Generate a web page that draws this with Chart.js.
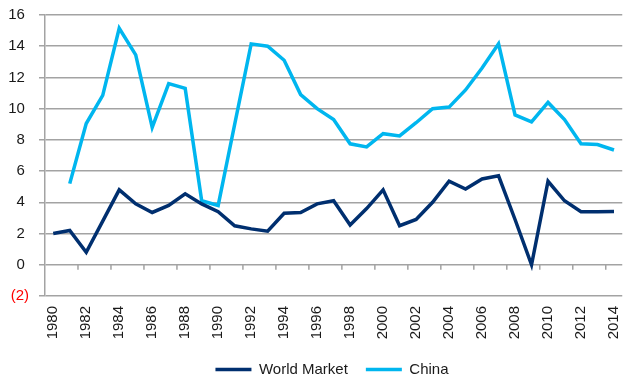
<!DOCTYPE html>
<html>
<head>
<meta charset="utf-8">
<script src="https://cdn.jsdelivr.net/npm/chart.js@4/dist/chart.umd.min.js"></script>
<style>
  html, body { margin: 0; padding: 0; background: #fff; }
  #wrap { width: 642px; height: 380px; }
</style>
</head>
<body>
<div id="wrap"><canvas id="growthChart"></canvas></div>
<script>
// Years on the x axis
const years = [];
for (let y = 1980; y <= 2014; y++) years.push(String(y));

// Values (% growth)
const worldMarket = [2.0, 2.2, 0.8, 2.8, 4.8, 3.9, 3.35, 3.8, 4.55, 3.9,
    3.4, 2.5, 2.3, 2.15, 3.3, 3.35, 3.9, 4.1, 2.55, 3.6,
    4.8, 2.5, 2.9, 4.0, 5.35, 4.85, 5.5, 5.7, 2.9, 0.0,
    5.35, 4.1, 3.4, 3.4, 3.42];
const china = [null, 5.2, 9.05, 10.85, 15.15, 13.45, 8.8, 11.6, 11.3, 4.1,
    3.8, 9.0, 14.15, 14.0, 13.1, 10.9, 10.0, 9.3, 7.75, 7.55,
    8.4, 8.25, 9.1, 10.0, 10.1, 11.2, 12.6, 14.15, 9.6, 9.15,
    10.4, 9.3, 7.75, 7.7, 7.35];

const gridColor = '#a3a3a3';

// small tick marks on the zero line, every second category boundary
const zeroTicks = {
    id: 'zeroTicks',
    afterLayout(chart) {
        // legend sits a little right of the canvas centre in the original
        chart.legend.left += 11;
        chart.legend.right += 11;
    },
    beforeDatasetsDraw(chart) {
        const x = chart.scales.x, y = chart.scales.y;
        const y0 = y.getPixelForValue(0);
        const ctx = chart.ctx;
        ctx.save();
        ctx.strokeStyle = gridColor;
        ctx.lineWidth = 1.5;
        ctx.beginPath();
        for (let i = 1; i < years.length - 1; i += 2) {
            const px = (x.getPixelForValue(i) + x.getPixelForValue(i + 1)) / 2;
            ctx.moveTo(px, y0);
            ctx.lineTo(px, y0 + 5);
        }
        ctx.stroke();
        ctx.restore();
    }
};

Chart.defaults.font.family = "'Liberation Sans', Arial, sans-serif";
Chart.defaults.font.size = 15;
Chart.defaults.color = '#1a1a1a';

new Chart(document.getElementById('growthChart').getContext('2d'), {
    type: 'line',
    data: {
        labels: years,
        datasets: [{
            label: 'World Market',
            data: worldMarket,
            borderColor: '#002f6f',
            backgroundColor: '#002f6f',
            borderWidth: 3.5,
            pointRadius: 0,
            tension: 0,
            fill: false
        }, {
            label: 'China',
            data: china,
            borderColor: '#00b6ef',
            backgroundColor: '#00b6ef',
            borderWidth: 3.5,
            pointRadius: 0,
            tension: 0,
            fill: false
        }]
    },
    options: {
        responsive: true,
        maintainAspectRatio: false,
        animation: false,
        layout: { padding: { left: 0, right: 0, top: 15, bottom: -7 } },
        plugins: {
            legend: {
                position: 'bottom',
                labels: {
                    usePointStyle: true,
                    pointStyle: 'line',
                    pointStyleWidth: 36,
                    padding: 18,
                    color: '#1a1a1a'
                }
            },
            tooltip: { enabled: false }
        },
        scales: {
            x: {
                offset: true,
                grid: { display: false, drawTicks: false },
                border: { display: false },
                ticks: {
                    autoSkip: false,
                    maxRotation: 90,
                    minRotation: 90,
                    padding: 10,
                    callback: function (val, i) {
                        return i % 2 === 0 ? this.getLabelForValue(val) : '';
                    }
                },
                afterFit: function (scale) { scale.height = 48; }
            },
            y: {
                min: -2,
                max: 16,
                grid: { color: gridColor, lineWidth: 1.5, tickLength: 6 },
                border: { color: gridColor, width: 1.5 },
                ticks: {
                    stepSize: 2,
                    padding: 10,
                    color: ctx => ctx.tick.value < 0 ? '#ff0000' : '#1a1a1a',
                    callback: v => v < 0 ? '(' + (-v) + ')' : v + ' '
                },
                afterFit: function (scale) { scale.width = 45; scale.paddingTop = 0; }
            }
        }
    },
    plugins: [zeroTicks]
});
</script>
</body>
</html>
